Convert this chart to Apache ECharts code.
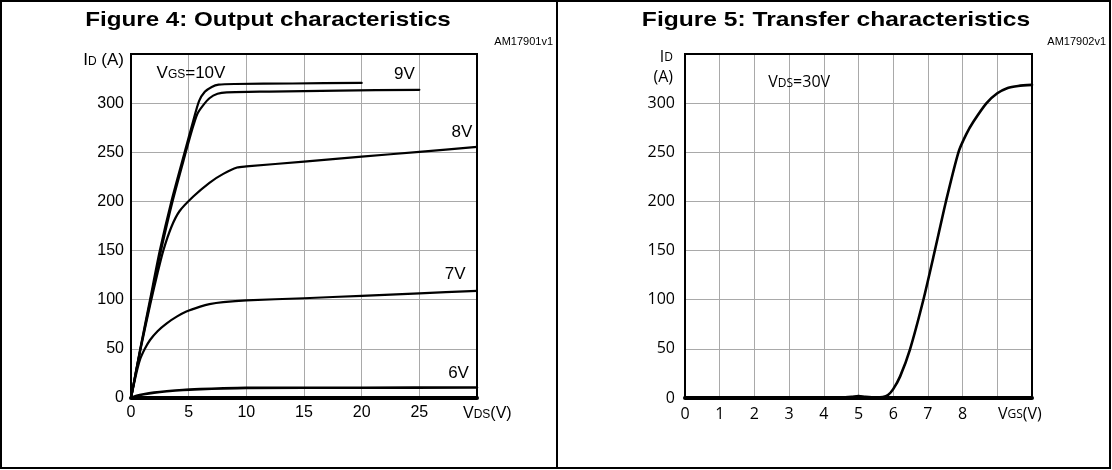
<!DOCTYPE html>
<html><head><meta charset="utf-8">
<script src="https://cdn.jsdelivr.net/npm/echarts@6/dist/echarts.min.js"></script>
<style>html,body{margin:0;padding:0;background:#fff}#c{width:1112px;height:470px}</style>
</head><body><div id="c"></div>
<script>
// ---- Figure 4: Output characteristics (ID vs VDS) ----
const vgs10 = [[0,0],[0.8,50],[1.65,100],[2.5,150],[3.5,200],[4.65,250],[5.35,280],[5.9,302],[6.4,311.5],[7,316.5],[7.6,318.8],[9,319.5],[14,320],[20,320.6]];
const vgs9  = [[0,0],[0.8,49],[1.7,100],[2.6,150],[3.6,200],[4.75,250],[5.3,273],[5.75,289],[6.2,297],[6.8,305],[7.5,309.5],[8.3,311],[12,311.8],[18,312.8],[25,313.6]];
const vgs8  = [[0,0],[0.8,48],[1.7,97],[2.3,127],[2.8,150],[3.5,174],[4.2,190],[5.4,205],[6.8,219],[8,228],[9.2,234.5],[10,235.6],[15,240.5],[20,245.5],[25,250.5],[30,255.5]];
const vgs7  = [[0,0],[0.4,22],[0.78,39],[1.2,50],[1.65,59],[2.3,68],[3.1,76],[4,83],[4.8,88],[6,93],[6.8,95.5],[8,97.5],[10,99.3],[15,101.5],[20,104],[25,106.5],[30,109]];
const vgs6  = [[0,0],[0.5,2.2],[1.1,3.8],[2,5.5],[3.1,6.9],[4.5,8.2],[6,9],[8,9.8],[10,10.3],[20,10.5],[30,10.7]];
const outXTicks = [0,5,10,15,20,25];
// curve labels: [VDS, ID, text]
const outLabels = [[5.2,331,'{v|V}{s|GS}{v|=10V}'],[23.7,329,'9V'],[28.7,270,'8V'],[28.1,126,'7V'],[28.4,25.5,'6V']];

// ---- Figure 5: Transfer characteristics (ID vs VGS) ----
const transfer = [[0,0.8],[1,0.8],[2,0.8],[3,0.8],[4,0.8],[4.5,0.6],[4.8,1.2],[5.0,2],[5.2,1.2],[5.5,0.6],[5.7,1],[5.85,3],[6.0,9],[6.2,22],[6.48,49],[6.87,100],[7.2,150],[7.52,200],[7.88,250],[8.1,268],[8.31,281],[8.69,300],[9.0,310],[9.3,315.5],[9.6,317.5],[10,318.6]];
const trXTicks = [0,1,2,3,4,5,6,7,8];
const trLabels = [[3.29,322,'{v|V}{s|DS}{v|=30V}']];

const yTicks = [0,50,100,150,200,250,300];

const fL = '"Liberation Sans", Arial, sans-serif';
const fR = '"Open Sans", "Noto Sans", sans-serif';

function labelPoint(list, font, size, small){
  return {
    symbol:'circle', symbolSize:0, silent:true,
    label:{show:true, position:'inside', color:'#000', fontFamily:font, fontSize:size,
      formatter:p=>p.data.txt,
      rich:{v:{fontFamily:font,fontSize:size,color:'#000',lineHeight:size+2,verticalAlign:'bottom'},
            s:{fontFamily:font,fontSize:small,color:'#000',lineHeight:size+2,verticalAlign:'bottom',padding:[0,0,1,0]}}},
    data:list.map(d=>({coord:[d[0],d[1]],txt:d[2]}))
  };
}
function curve(data, xi, w, mp){
  const s = {type:'line', xAxisIndex:xi, yAxisIndex:xi, data:data, showSymbol:false, symbol:'none',
    smooth:0.25, lineStyle:{color:'#000', width:w, join:'round', cap:'round'}, animation:false, z:5};
  if (mp) s.markPoint = mp;
  return s;
}

const gridLine = {show:true, lineStyle:{color:'#a9a9a9', width:1}};
const chart = echarts.init(document.getElementById('c'), null, {renderer:'canvas'});
chart.setOption({
  animation:false,
  backgroundColor:'#fff',
  grid:[
    {left:131, top:54, width:346, height:344, show:true, borderColor:'#000', borderWidth:2, backgroundColor:'transparent', z:3},
    {left:685, top:54, width:347, height:344, show:true, borderColor:'#000', borderWidth:2, backgroundColor:'transparent', z:3}
  ],
  xAxis:[
    {type:'value', gridIndex:0, min:0, max:30, interval:5,
     axisLine:{show:true, onZero:false, lineStyle:{color:'#000', width:4}}, axisTick:{show:false},
     splitLine:gridLine,
     axisLabel:{margin:7, color:'#000', fontFamily:fL, fontSize:16, formatter:v=>outXTicks.includes(v)?String(v):''},
     name:'{v|V}{s|DS}{v|(V)}', nameLocation:'end', nameGap:-14,
     nameTextStyle:{align:'left', verticalAlign:'middle', padding:[30,0,0,0],
       rich:{v:{fontFamily:fL,fontSize:16,color:'#000',lineHeight:18,verticalAlign:'bottom'},
             s:{fontFamily:fL,fontSize:12,color:'#000',lineHeight:18,verticalAlign:'bottom',padding:[0,0,1,0]}}}},
    {type:'value', gridIndex:1, min:0, max:10, interval:1,
     axisLine:{show:true, onZero:false, lineStyle:{color:'#000', width:4}}, axisTick:{show:false},
     splitLine:gridLine,
     axisLabel:{margin:8, color:'#000', fontFamily:fR, fontSize:16, formatter:v=>trXTicks.includes(v)?String(v):''},
     name:'{v|V}{s|GS}{v|(V)}', nameLocation:'end', nameGap:-34,
     nameTextStyle:{align:'left', verticalAlign:'middle', padding:[30,0,0,0],
       rich:{v:{fontFamily:fR,fontSize:16,color:'#000',lineHeight:18,verticalAlign:'bottom'},
             s:{fontFamily:fR,fontSize:12,color:'#000',lineHeight:18,verticalAlign:'bottom',padding:[0,0,1,0]}}}}
  ],
  yAxis:[
    {type:'value', gridIndex:0, min:0, max:350, interval:50,
     axisLine:{show:false}, axisTick:{show:false}, splitLine:gridLine,
     axisLabel:{margin:7, color:'#000', fontFamily:fL, fontSize:16, formatter:v=>yTicks.includes(v)?String(v):''},
     name:'{v|I}{s|D}{v| (A)}', nameLocation:'end', nameGap:0,
     nameTextStyle:{align:'right', verticalAlign:'middle', padding:[12,7,0,0],
       rich:{v:{fontFamily:fL,fontSize:17,color:'#000',lineHeight:18,verticalAlign:'bottom'},
             s:{fontFamily:fL,fontSize:12,color:'#000',lineHeight:18,verticalAlign:'bottom',padding:[0,0,1,0]}}}},
    {type:'value', gridIndex:1, min:0, max:350, interval:50,
     axisLine:{show:false}, axisTick:{show:false}, splitLine:gridLine,
     axisLabel:{margin:10, color:'#000', fontFamily:fR, fontSize:16, formatter:v=>yTicks.includes(v)?String(v):''},
     name:'{v|I}{s|D}\n{v|(A)}', nameLocation:'end', nameGap:0,
     nameTextStyle:{align:'right', verticalAlign:'middle', padding:[22,12,0,0],
       rich:{v:{fontFamily:fR,fontSize:16,color:'#000',lineHeight:20,verticalAlign:'bottom'},
             s:{fontFamily:fR,fontSize:12,color:'#000',lineHeight:20,verticalAlign:'bottom',padding:[0,0,1,0]}}}}
  ],
  series:[
    curve(vgs10,0,2.2, labelPoint(outLabels,fL,17,12)),
    curve(vgs9,0,2.2),
    curve(vgs8,0,2.2),
    curve(vgs7,0,2.2),
    curve(vgs6,0,2.6),
    curve(transfer,1,2.6, labelPoint(trLabels,fR,16,12))
  ],
  graphic:[
    {type:'rect', shape:{x:1,y:1,width:1109,height:467}, style:{fill:'none', stroke:'#000', lineWidth:2}, silent:true},
    {type:'line', shape:{x1:557,y1:1,x2:557,y2:468}, style:{stroke:'#000', lineWidth:2}, silent:true},
    {type:'text', x:268, y:20, scaleX:1.18, style:{text:'Figure 4: Output characteristics', font:'bold 20.5px '+fL, fill:'#000', textAlign:'center', textVerticalAlign:'middle'}},
    {type:'text', x:836, y:20, scaleX:1.2, style:{text:'Figure 5: Transfer characteristics', font:'bold 20.5px '+fL, fill:'#000', textAlign:'center', textVerticalAlign:'middle'}},
    {type:'text', x:553, y:42, style:{text:'AM17901v1', font:'11px '+fL, fill:'#000', textAlign:'right', textVerticalAlign:'middle'}},
    {type:'text', x:1106, y:42, style:{text:'AM17902v1', font:'11px '+fL, fill:'#000', textAlign:'right', textVerticalAlign:'middle'}}
  ]
});
</script></body></html>
